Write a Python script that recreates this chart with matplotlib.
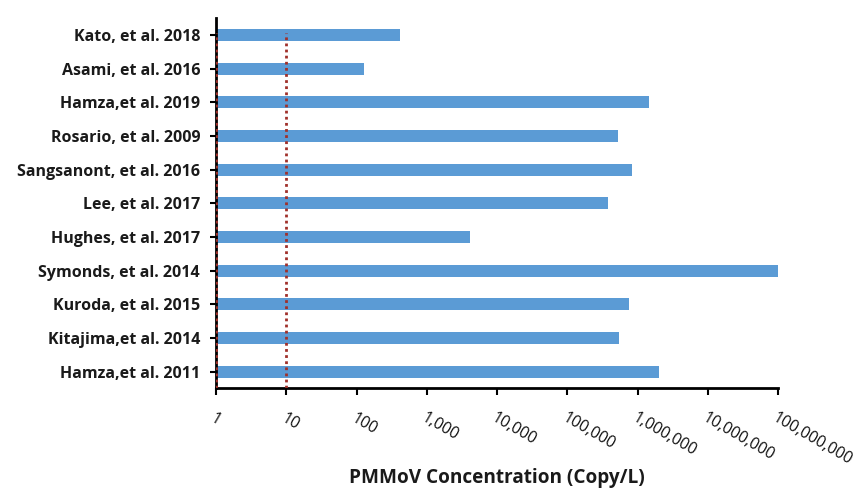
import matplotlib.pyplot as plt
from matplotlib.ticker import FixedLocator, NullLocator

# studies listed bottom to top as drawn
studies = ['Hamza,et al. 2011', 'Kitajima,et al. 2014', 'Kuroda, et al. 2015',
           'Symonds, et al. 2014', 'Hughes, et al. 2017', 'Lee, et al. 2017',
           'Sangsanont, et al. 2016', 'Rosario, et al. 2009', 'Hamza,et al. 2019',
           'Asami, et al. 2016', 'Kato, et al. 2018']
concentration = [2.0e6, 5.5e5, 7.6e5, 1.0e8, 4.1e3, 3.8e5, 8.3e5, 5.2e5, 1.45e6, 128, 420]

xticks = [1, 10, 100, 1e3, 1e4, 1e5, 1e6, 1e7, 1e8]
xticklabels = ['1', '10', '100', '1,000', '10,000', '100,000', '1,000,000',
               '10,000,000', '100,000,000']
ref_lines = [1, 10]

plt.rcParams['font.family'] = ['Open Sans', 'DejaVu Sans']

fig = plt.figure(figsize=(8.54, 4.88), dpi=100)
ax = fig.add_axes([0.253, 0.205, 0.658, 0.758])

ypos = list(range(len(studies)))
ax.barh(ypos, concentration, height=0.36, color='#5B9BD5', left=1)
ax.set_xscale('log')
ax.set_xlim(1, 1e8)
ax.set_ylim(-0.48, 10.5)

for x in ref_lines:
    ax.plot([x, x], [-0.48, 10.05], linestyle=(0, (1, 1.2)), color='#A0302A',
            linewidth=2, zorder=3)

ax.set_yticks(ypos)
ax.set_yticklabels(studies, fontsize=11.5, fontweight='bold', color='#1a1a1a')
ax.xaxis.set_major_locator(FixedLocator(xticks))
ax.xaxis.set_minor_locator(NullLocator())
ax.set_xticklabels(xticklabels, fontsize=11.3, rotation=-30, ha='left', va='top',
                   rotation_mode='anchor', color='#111111', fontweight='medium')

for side in ['top', 'right']:
    ax.spines[side].set_visible(False)
for side in ['left', 'bottom']:
    ax.spines[side].set_linewidth(2)
ax.tick_params(axis='y', direction='out', length=4, width=1.5, pad=7.5)
ax.tick_params(axis='x', direction='out', length=5, width=1.5, pad=11)

fig.text(0.582, 0.02, 'PMMoV Concentration (Copy/L)', ha='center', va='center',
         fontsize=13.7, fontweight='bold', color='#1a1a1a')

fig.savefig('out.png', dpi=100)
